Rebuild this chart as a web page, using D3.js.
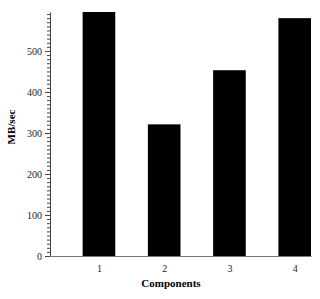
<!DOCTYPE html>
<html>
<head>
<meta charset="utf-8">
<script src="https://cdn.jsdelivr.net/npm/d3@7"></script>
<style>
  body { margin: 0; background: #fff; }
  svg { display: block; font-family: "Liberation Serif", "Times New Roman", serif; }
  svg text { font-family: "Liberation Serif", "Times New Roman", serif; }
</style>
</head>
<body>
<div id="chart"></div>
<script>
const width = 320;
const height = 299;
const margin = {top: 12, right: 9, bottom: 43, left: 50};

const components = [1, 2, 3, 4];
const speeds = [595, 321, 453, 580];
const yMajorTicks = [0, 100, 200, 300, 400, 500];

const svg = d3.select("#chart").append("svg")
  .attr("width", width)
  .attr("height", height);

// x scale is linear so bars sit at integer component values
const xScale = d3.scaleLinear()
  .domain([0.25, 4.25])
  .range([margin.left, width - margin.right]);

const yScale = d3.scaleLinear()
  .domain([0, 595])
  .range([height - margin.bottom, margin.top]);

const barW = xScale(1.5) - xScale(1);

// bars
svg.selectAll(".bar")
  .data(components)
  .join("rect")
  .attr("class", "bar")
  .attr("x", (d, i) => xScale(d) - barW / 2)
  .attr("y", (d, i) => yScale(speeds[i]))
  .attr("width", barW)
  .attr("height", (d, i) => yScale(0) - yScale(speeds[i]))
  .attr("fill", "#000");

// y axis with minor ticks
const yAxisG = svg.append("g")
  .attr("transform", `translate(${margin.left},0)`);

yAxisG.append("g")
  .call(d3.axisLeft(yScale).tickValues(d3.range(0, 591, 10)).tickSize(3).tickFormat(""))
  .call(g => g.select(".domain").remove());

yAxisG.append("g")
  .call(d3.axisLeft(yScale).tickValues(yMajorTicks).tickSize(5).tickPadding(3).tickSizeOuter(0).tickFormat(d3.format("d")))
  .attr("font-family", null)
  .call(g => g.select(".domain").attr("stroke", "#444"))
  .call(g => g.selectAll("text").attr("font-size", "10px").attr("fill", "#222"));

yAxisG.selectAll("line").attr("stroke", "#444");

// x axis
svg.append("g")
  .attr("transform", `translate(0,${yScale(0)})`)
  .call(d3.axisBottom(xScale).tickValues(components).tickSize(0).tickPadding(9).tickSizeOuter(0).tickFormat(d3.format("d")))
  .attr("font-family", null)
  .call(g => g.select(".domain").attr("stroke", "#777"))
  .call(g => g.selectAll("text").attr("font-size", "10px").attr("fill", "#222"));

// axis titles
svg.append("text")
  .attr("x", 171)
  .attr("y", 287)
  .attr("text-anchor", "middle")
  .style("font-size", "11px")
  .style("font-weight", "bold")
  .text("Components");

svg.append("text")
  .attr("transform", `translate(15,127) rotate(-90)`)
  .attr("text-anchor", "middle")
  .style("font-size", "11px")
  .style("font-weight", "bold")
  .text("MB/sec");
</script>
</body>
</html>
